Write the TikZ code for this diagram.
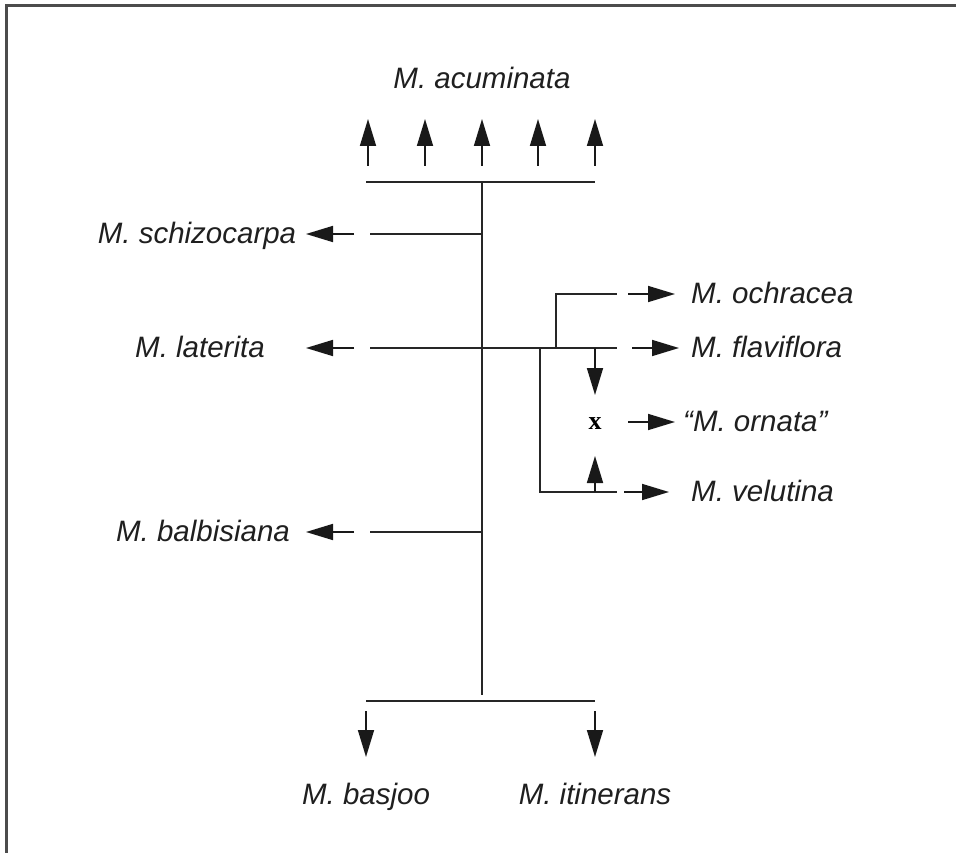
\documentclass[tikz,border=0pt]{standalone}
\usepackage{fontspec}
\setmainfont{Liberation Sans}
\newfontfamily\xfont{Liberation Serif}
\usetikzlibrary{arrows.meta}
\begin{document}
\begin{tikzpicture}[x=1pt,y=-1pt,
  br/.style={line width=1.4pt, black!85},
  arr/.style={line width=1.7pt, black!90, -{Triangle[length=27pt,width=16pt]}},
  lab/.style={font=\fontsize{29.5}{33}\selectfont\itshape, inner sep=0pt, text=black!88, text height=21pt, text depth=0pt},
  llab/.style={lab, anchor=center},
  rlab/.style={lab, anchor=west}]
\useasboundingbox (0,0) rectangle (956,853);
\draw[line width=3pt, black!70] (956,6) -- (6,6) -- (6,853);

% labels
\node[lab] (acu) at (482,78) {M. acuminata};
\node[llab] (sch) at (197,233) {M. schizocarpa};
\node[llab] (lat) at (200,347) {M. laterita};
\node[llab] (bal) at (203,531) {M. balbisiana};
\node[rlab] (och) at (691,293) {M. ochracea};
\node[rlab] (fla) at (691,347) {M. flaviflora};
\node[rlab] (orn) at (683,421) {``M. ornata''};
\node[rlab] (vel) at (691,491) {M. velutina};
\node[lab] (bas) at (366,794) {M. basjoo};
\node[lab] (iti) at (595,794) {M. itinerans};
\node[inner sep=0pt, font=\fontsize{26}{30}\xfont\bfseries] (x) at (595,424) {x};

% junction coordinates
\coordinate (tl) at (366,182); \coordinate (tr) at (595,182); \coordinate (tm) at (482,182);
\coordinate (bl) at (366,701); \coordinate (br) at (595,701); \coordinate (bm) at (482,695);
\coordinate (sE) at (370,234); \coordinate (sM) at (482,234);
\coordinate (lE) at (370,348); \coordinate (lR) at (617,348);
\coordinate (bE) at (370,532); \coordinate (bM) at (482,532);
\coordinate (oJ) at (556,348); \coordinate (oC) at (556,294); \coordinate (oR) at (617,294);
\coordinate (vJ) at (540,348); \coordinate (vC) at (540,492); \coordinate (vR) at (617,492);

% tree lines
\draw[br] (tl) -- (tr);
\draw[br] (tm) -- (bm);
\draw[br] (bl) -- (br);
\draw[br] (sE) -- (sM);
\draw[br] (lE) -- (lR);
\draw[br] (bE) -- (bM);
\draw[br] (oJ) -- (oC) -- (oR);
\draw[br] (vJ) -- (vC) -- (vR);

% top arrows
\foreach \i/\xx in {1/368,2/425,3/482,4/538,5/595}{
  \coordinate (ut\i) at (\xx,166);
  \coordinate (uh\i) at (\xx,119);
  \draw[arr] (ut\i) -- (uh\i);
}
% bottom arrows
\coordinate (dt1) at (366,711); \coordinate (dh1) at (366,757);
\coordinate (dt2) at (595,711); \coordinate (dh2) at (595,757);
\draw[arr] (dt1) -- (dh1);
\draw[arr] (dt2) -- (dh2);

% left arrows
\coordinate (sa1) at (354,234); \coordinate (sa2) at (306,234);
\coordinate (la1) at (354,348); \coordinate (la2) at (306,348);
\coordinate (ba1) at (354,532); \coordinate (ba2) at (306,532);
\draw[arr] (sa1) -- (sa2);
\draw[arr] (la1) -- (la2);
\draw[arr] (ba1) -- (ba2);

% right arrows
\coordinate (oa1) at (628,294); \coordinate (oa2) at (675,294);
\coordinate (fa1) at (632,348); \coordinate (fa2) at (679,348);
\coordinate (na1) at (628,422); \coordinate (na2) at (675,422);
\coordinate (va1) at (624,492); \coordinate (va2) at (669,492);
\draw[arr] (oa1) -- (oa2);
\draw[arr] (fa1) -- (fa2);
\draw[arr] (na1) -- (na2);
\draw[arr] (va1) -- (va2);

% cross arrows
\coordinate (c1) at (595,348); \coordinate (c2) at (595,395);
\coordinate (c3) at (595,492); \coordinate (c4) at (595,456);
\draw[arr] (c1) -- (c2);
\draw[arr] (c3) -- (c4);
\end{tikzpicture}
\end{document}
